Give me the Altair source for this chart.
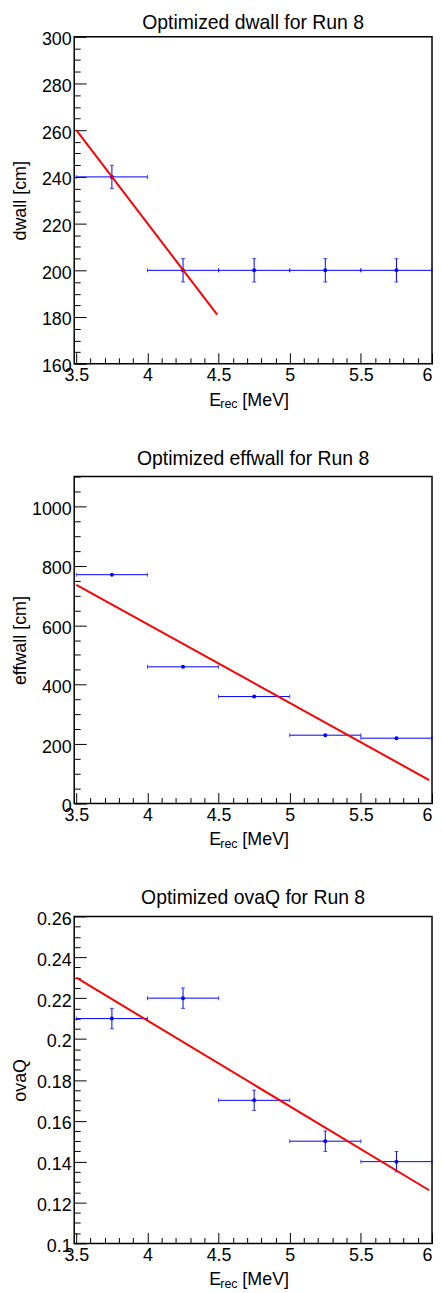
import altair as alt
import pandas as pd

# ---------------- data ----------------
E_CENTER = [3.75, 4.25, 4.75, 5.25, 5.75]
E_LOW = [3.5, 4.0, 4.5, 5.0, 5.5]
E_HIGH = [4.0, 4.5, 5.0, 5.5, 6.0]

DWALL = [240, 200, 200, 200, 200]
DWALL_ERR = [5, 5, 5, 5, 5]
EFFWALL = [770, 460, 360, 230, 220]
EFFWALL_ERR = [0, 0, 0, 0, 0]
OVAQ = [0.21, 0.22, 0.17, 0.15, 0.14]
OVAQ_ERR = [0.005, 0.005, 0.005, 0.005, 0.005]

DWALL_FIT_X = [3.5, 4.49]
DWALL_FIT_Y = [260, 181]
EFFWALL_FIT_X = [3.5, 5.98]
EFFWALL_FIT_Y = [736, 79]
OVAQ_FIT_X = [3.5, 5.98]
OVAQ_FIT_Y = [0.230, 0.126]

TITLES = ["Optimized dwall for Run 8", "Optimized effwall for Run 8", "Optimized ovaQ for Run 8"]
Y_TITLES = ["dwall [cm]", "effwall [cm]", "ovaQ"]
X_TITLE_PARTS = ["E", "rec", "[MeV]"]

X_DOMAIN = [3.485, 6.0]
DWALL_DOMAIN = [160, 300]
EFFWALL_DOMAIN = [0, 1100]
OVAQ_DOMAIN = [0.1, 0.26]

# axis tick positions (major = labelled, minor = short ticks)
X_MAJOR = [3.5, 4, 4.5, 5, 5.5, 6]
X_MINOR = [round(3.5 + 0.1 * i, 2) for i in range(26) if i % 5 != 0]
DWALL_MAJOR = [160, 180, 200, 220, 240, 260, 280, 300]
DWALL_MINOR = [160 + 5 * i for i in range(29) if i % 4 != 0]
EFFWALL_MAJOR = [0, 200, 400, 600, 800, 1000]
EFFWALL_MINOR = [50 * i for i in range(23) if i % 4 != 0]
OVAQ_MAJOR = [0.1, 0.12, 0.14, 0.16, 0.18, 0.2, 0.22, 0.24, 0.26]
OVAQ_MINOR = [round(0.1 + 0.005 * i, 3) for i in range(33) if i % 4 != 0]

# ---------------- styling ----------------
FONT = "Liberation Sans"
BLUE = "#0000ff"
RED = "#ff0000"
W, H = 360, 329


def label_x_axis():
    return alt.Axis(
        orient="bottom", values=X_MAJOR, title=None, domain=False, grid=False,
        ticks=False, labelPadding=3, labelFont=FONT, labelFontSize=18, labelColor="black",
        labelFlush=1, labelOverlap=False, labelExpr="'' + datum.value",
    )


def label_y_axis(title, ticks):
    return alt.Axis(
        orient="left", values=ticks, title=title, domain=False, grid=False,
        ticks=False, labelPadding=3, labelOffset=3, labelFont=FONT, labelFontSize=18,
        labelColor="black", labelFlush=False, labelOverlap=False,
        labelExpr="'' + datum.value",
        titleFont=FONT, titleFontSize=18, titleFontWeight="normal", titleColor="black",
        titleAngle=270, titleAlign="center", titleBaseline="middle",
        titleX=-54.4, titleY=H / 2,
    )


def tick_axis(orient, values, size):
    return alt.Axis(
        orient=orient, values=values, title=None, domain=False, grid=False,
        labels=False, ticks=True, tickSize=size, offset=-size,
        tickColor="black", tickWidth=1,
    )


def text_layer(txt, x, y, size, align="left"):
    return alt.Chart(pd.DataFrame({"t": [txt]})).mark_text(
        align=align, baseline="alphabetic", font=FONT, fontSize=size, color="black"
    ).encode(x=alt.value(x), y=alt.value(y), text="t:N")


def panel(title, title_y, ytitle, yvals, yerr, fit_x, fit_y, ydomain, ymajor, yminor):
    df = pd.DataFrame({"e": E_CENTER, "lo": E_LOW, "hi": E_HIGH, "v": yvals, "err": yerr})
    df["vlo"] = df["v"] - df["err"]
    df["vhi"] = df["v"] + df["err"]
    fit = pd.DataFrame({"e": fit_x, "v": fit_y})

    xs = alt.Scale(domain=X_DOMAIN, nice=False, zero=False)
    ys = alt.Scale(domain=ydomain, nice=False, zero=False)

    base = alt.Chart(df)
    hbar = base.mark_rule(color=BLUE, strokeWidth=1).encode(
        x=alt.X("lo:Q", scale=xs, axis=label_x_axis()),
        x2="hi:Q",
        y=alt.Y("v:Q", scale=ys, axis=label_y_axis(ytitle, ymajor)),
    )
    cap_lo = base.mark_tick(orient="vertical", color=BLUE, size=4, thickness=1).encode(
        x=alt.X("lo:Q", scale=xs, axis=None), y=alt.Y("v:Q", scale=ys, axis=None))
    cap_hi = base.mark_tick(orient="vertical", color=BLUE, size=4, thickness=1).encode(
        x=alt.X("hi:Q", scale=xs, axis=None), y=alt.Y("v:Q", scale=ys, axis=None))
    layers = [hbar, cap_lo, cap_hi]
    if any(e > 0 for e in yerr):
        vbar = base.mark_rule(color=BLUE, strokeWidth=1).encode(
            x=alt.X("e:Q", scale=xs, axis=None),
            y=alt.Y("vlo:Q", scale=ys, axis=None), y2="vhi:Q")
        vcap_lo = base.mark_tick(orient="horizontal", color=BLUE, size=4, thickness=1).encode(
            x=alt.X("e:Q", scale=xs, axis=None), y=alt.Y("vlo:Q", scale=ys, axis=None))
        vcap_hi = base.mark_tick(orient="horizontal", color=BLUE, size=4, thickness=1).encode(
            x=alt.X("e:Q", scale=xs, axis=None), y=alt.Y("vhi:Q", scale=ys, axis=None))
        layers += [vbar, vcap_lo, vcap_hi]
    # points carry the major inward ticks
    pts = base.mark_circle(color=BLUE, size=16, opacity=1).encode(
        x=alt.X("e:Q", scale=xs, axis=tick_axis("bottom", X_MAJOR, 11)),
        y=alt.Y("v:Q", scale=ys, axis=tick_axis("left", ymajor, 12)))
    # fit line carries the minor inward ticks
    line = alt.Chart(fit).mark_line(color=RED, strokeWidth=2).encode(
        x=alt.X("e:Q", scale=xs, axis=tick_axis("bottom", X_MINOR, 6)),
        y=alt.Y("v:Q", scale=ys, axis=tick_axis("left", yminor, 6)))
    layers += [pts, line]

    # panel title and x-axis title "E_rec [MeV]" (subscript) as text
    layers += [
        text_layer(title, W / 2, title_y, 19.5, align="center"),
        text_layer(X_TITLE_PARTS[0], 136, H + 42, 18),
        text_layer(X_TITLE_PARTS[1], 147, H + 45, 12.5),
        text_layer(X_TITLE_PARTS[2], 169.2, H + 42, 18),
    ]

    return alt.layer(*layers).resolve_axis(x="independent", y="independent").properties(
        width=W, height=H)


p1 = panel(TITLES[0], -8, Y_TITLES[0], DWALL, DWALL_ERR, DWALL_FIT_X, DWALL_FIT_Y,
           DWALL_DOMAIN, DWALL_MAJOR, DWALL_MINOR)
p2 = panel(TITLES[1], -12, Y_TITLES[1], EFFWALL, EFFWALL_ERR, EFFWALL_FIT_X, EFFWALL_FIT_Y,
           EFFWALL_DOMAIN, EFFWALL_MAJOR, EFFWALL_MINOR)
p3 = panel(TITLES[2], -12, Y_TITLES[2], OVAQ, OVAQ_ERR, OVAQ_FIT_X, OVAQ_FIT_Y,
           OVAQ_DOMAIN, OVAQ_MAJOR, OVAQ_MINOR)

chart = alt.vconcat(p1, p2, p3, spacing=113.5, bounds="flush").properties(
    padding={"left": 1.6, "top": 0, "right": 0, "bottom": 0}
).configure_view(stroke="black", strokeWidth=1.5)

chart.save("out.html", embed_options={"renderer": "svg", "actions": False})
